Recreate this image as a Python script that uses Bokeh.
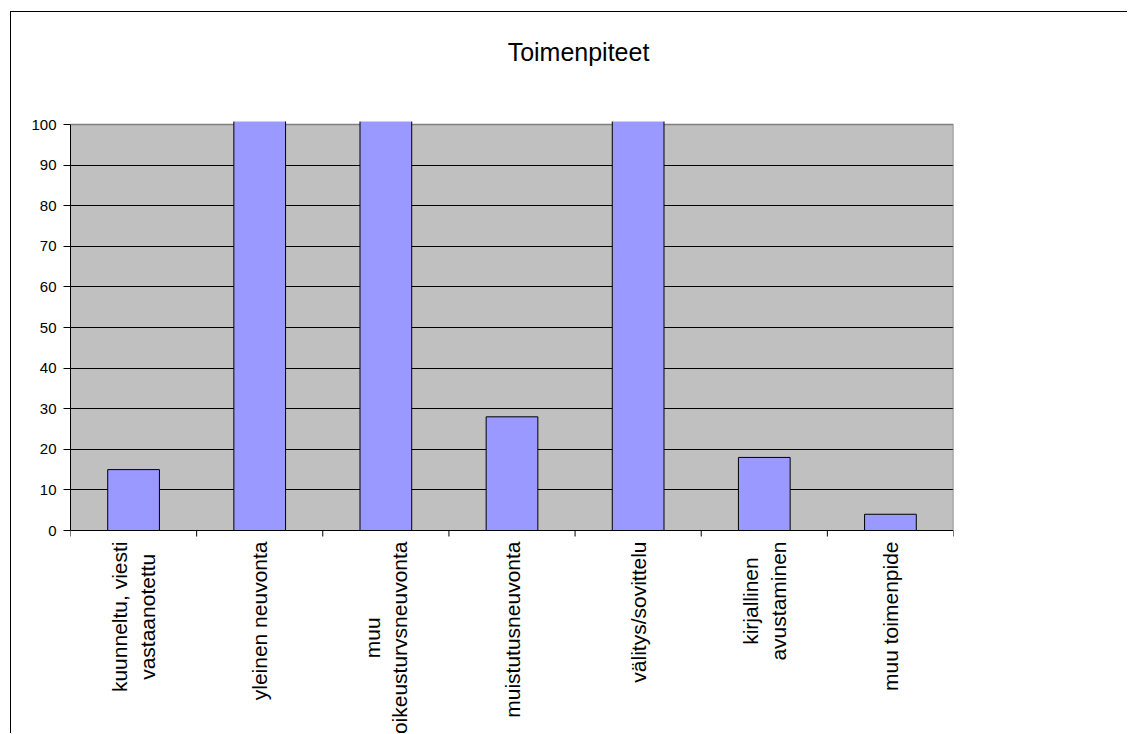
from math import pi
from bokeh.plotting import figure
from bokeh.models import Range1d, FixedTicker, BoxAnnotation, Label
from bokeh.core.properties import value
from bokeh.embed import file_html
from bokeh.resources import INLINE

# ---- data ----
categories = [
    "kuunneltu, viesti\nvastaanotettu",
    "yleinen neuvonta",
    "muu\noikeusturvsneuvonta",
    "muistutusneuvonta",
    "välitys/sovittelu",
    "kirjallinen\navustaminen",
    "muu toimenpide",
]
values = [15, 120, 120, 28, 120, 18, 4]   # bars 2, 3 and 5 run off the top of the 0-100 axis
y_ticks = [0, 10, 20, 30, 40, 50, 60, 70, 80, 90, 100]
title_text = "Toimenpiteet"

FONT = "Liberation Sans"
LABEL_PX = 21
n = len(categories)

# ---- geometry of the canvas (pixels) ----
W, H = 1117, 722
BORDER_L, BORDER_R = 59, 175
CLIP_PX = 109                  # canvas y where over-tall bars are cut off
PPU = 4.06                     # pixels per value unit on the y axis
x_lo, x_hi = -0.5, n - 0.5
y_top, y_clip = 100, 100.74
y_hi = y_clip + CLIP_PX / PPU  # frame covers the whole canvas height
y_lo = y_hi - H / PPU
PX_PER_CAT = (W - BORDER_L - BORDER_R) / (x_hi - x_lo)

# Arial / Liberation Sans advance widths (1/1000 em) used to centre the rotated label blocks
ADV = {c: 556 for c in "abdeghnopqu0123456789ä"}
ADV.update({"c": 500, "k": 500, "s": 500, "v": 500, "x": 500, "y": 500, "z": 500,
            "f": 278, "t": 278, " ": 278, ",": 278, "/": 278, "r": 333,
            "i": 222, "j": 222, "l": 222, "m": 833, "w": 722})


def block_len(s, px):
    return max(sum(ADV.get(ch, 556) for ch in line) for line in s.split("\n")) * px / 1000


p = figure(width=W, height=H,
           x_range=Range1d(x_lo, x_hi), y_range=Range1d(y_lo, y_hi),
           x_axis_type=None, title="",
           output_backend="svg", toolbar_location=None,
           min_border_left=BORDER_L, min_border_right=BORDER_R,
           min_border_top=0, min_border_bottom=0)
p.styles = {"margin-left": "10px", "margin-top": "11px",
            "border-left": "1px solid black", "border-top": "1px solid black"}

p.background_fill_color = "white"
p.border_fill_color = "white"
p.outline_line_color = None

# gray plot area 0..100, under the grid
p.add_layout(BoxAnnotation(bottom=0, top=y_top, fill_color="#C0C0C0", fill_alpha=1,
                           line_color=None, level="image"))

# grid
p.ygrid.ticker = FixedTicker(ticks=y_ticks[1:-1])
p.ygrid.grid_line_color = "black"
p.ygrid.grid_line_width = 1

# gray plot-area border (top and right)
p.segment(x0=[x_lo, x_hi], y0=[y_top, 0], x1=[x_hi, x_hi], y1=[y_top, y_top],
          line_color="#808080", line_width=1.5)

# category axis: line at 0 and tick marks between categories
p.segment(x0=[x_lo], y0=[0], x1=[x_hi], y1=[0], line_color="black", line_width=1)
bounds = [i - 0.5 for i in range(n + 1)]
tick_len = 6 / PPU
p.segment(x0=bounds, y0=[0] * len(bounds), x1=bounds, y1=[-tick_len] * len(bounds),
          line_color="black", line_width=1)

# bars
p.vbar(x=list(range(n)), top=values, bottom=0, width=0.41,
       fill_color="#9999FF", line_color="black", line_width=1)

# category labels, rotated, lines centred, block starting just below the axis
label_y = [-(11 + block_len(c, LABEL_PX) / 2) / PPU for c in categories]
p.text(x=list(range(n)), y=label_y, text=categories, angle=pi / 2,
       text_align="center", text_baseline="middle",
       text_font=value(FONT), text_font_size=f"{LABEL_PX}px",
       text_color="black", text_line_height=1.2)

# cut the over-tall bars just above the 100 line
p.add_layout(BoxAnnotation(bottom=y_clip, fill_color="white", fill_alpha=1,
                           line_color=None, level="annotation"))

# chart title (page x ~578 centre, baseline ~51 px from the top of the page)
p.add_layout(Label(x=x_lo + (578 - 70) / PX_PER_CAT, y=y_hi - 39 / PPU,
                   text=title_text, text_align="center", text_baseline="alphabetic",
                   text_font=FONT, text_font_size="25px", text_color="black",
                   level="annotation"))

# y axis
ya = p.yaxis[0]
ya.ticker = FixedTicker(ticks=y_ticks)
ya.bounds = (0, y_top)
ya.axis_line_color = "black"
ya.major_tick_in = 0
ya.major_tick_out = 7
ya.minor_tick_line_color = None
ya.major_label_standoff = 7
ya.major_label_text_font = FONT
ya.major_label_text_font_size = "15px"
ya.major_label_text_color = "black"

open("out.html", "w").write(file_html(p, INLINE))
